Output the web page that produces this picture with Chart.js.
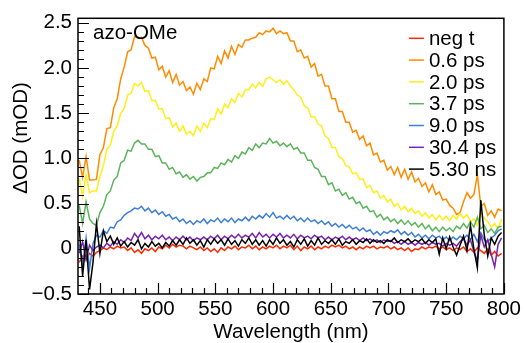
<!DOCTYPE html>
<html>
<head>
<meta charset="utf-8">
<script src="https://cdn.jsdelivr.net/npm/chart.js@4.4.1/dist/chart.umd.min.js"></script>
<style>
  html, body { margin: 0; padding: 0; background: #fff; }
</style>
</head>
<body>
<canvas id="spectra" width="524" height="343"></canvas>
<script>
// Lungimi de undă (nm), comune tuturor spectrelor
const wavelength = [
  432,435,438,441,444,447,450,453,456,459,
  462,465,468,471,474,477,480,483,486,489,
  492,495,498,501,504,507,510,513,516,519,
  522,525,528,531,534,537,540,543,546,549,
  552,555,558,561,564,567,570,573,576,579,
  582,585,588,591,594,597,600,603,606,609,
  612,615,618,621,624,627,630,633,636,639,
  642,645,648,651,654,657,660,663,666,669,
  672,675,678,681,684,687,690,693,696,699,
  702,705,708,711,714,717,720,723,726,729,
  732,735,738,741,744,747,750,753,756,759,
  762,765,768,771,774,777,780,783,786,789,
  792,795,798
];

// ΔOD (mOD) pentru fiecare întârziere
const negT = [
  -0.15,-0.08,-0.12,-0.05,-0.08,-0.04,-0.02,0.01,-0.01,0.02,
  0.00,0.03,0.01,0.02,-0.02,0.01,-0.04,-0.01,-0.05,0.00,
  -0.02,0.01,-0.03,0.02,0.00,0.04,0.01,0.05,0.02,0.04,
  0.03,0.00,0.03,0.01,-0.01,0.02,-0.02,0.01,-0.03,0.00,
  -0.04,0.01,-0.02,0.02,0.00,0.03,-0.01,0.02,0.01,0.04,
  0.00,0.03,-0.01,0.02,0.00,0.03,0.01,0.04,0.00,0.03,
  0.01,0.04,-0.01,0.03,-0.02,0.02,0.00,0.03,-0.01,0.02,
  0.00,0.03,0.01,0.04,0.02,0.04,0.01,0.03,0.00,0.02,
  -0.01,0.02,0.00,0.03,0.01,0.03,0.00,0.02,0.01,0.03,
  0.00,0.02,-0.01,0.01,-0.02,0.01,-0.03,0.00,-0.01,0.02,
  0.00,0.02,0.01,0.03,0.00,0.02,-0.01,0.01,-0.02,0.01,
  -0.01,0.02,-0.03,0.00,-0.04,0.01,-0.02,-0.05,0.00,-0.07,
  -0.03,-0.08,-0.05
];
const t06ps = [
  0.98,0.79,1.02,0.76,0.76,0.77,1.04,1.12,1.33,1.34,
  1.56,1.66,1.88,2.01,2.18,2.20,2.35,2.33,2.34,2.25,
  2.22,2.11,2.12,1.98,2.02,1.90,1.97,1.84,1.93,1.81,
  1.85,1.75,1.79,1.71,1.83,1.76,1.88,1.85,2.00,1.99,
  2.13,2.05,2.19,2.11,2.24,2.15,2.26,2.23,2.31,2.31,
  2.33,2.34,2.39,2.37,2.41,2.40,2.44,2.38,2.41,2.38,
  2.39,2.30,2.30,2.18,2.20,2.11,2.13,2.01,2.05,1.91,
  1.93,1.80,1.80,1.66,1.66,1.52,1.52,1.40,1.40,1.29,
  1.31,1.21,1.25,1.14,1.17,1.04,1.06,0.96,0.98,0.87,
  0.91,0.82,0.90,0.79,0.88,0.77,0.85,0.74,0.78,0.69,
  0.73,0.63,0.71,0.60,0.63,0.54,0.55,0.48,0.45,0.38,
  0.40,0.52,0.62,0.56,0.60,0.82,0.47,0.50,0.37,0.42,
  0.35,0.44,0.42
];
const t20ps = [
  0.78,0.58,0.82,0.62,0.64,0.64,0.80,0.92,1.10,1.15,
  1.30,1.36,1.50,1.55,1.70,1.72,1.83,1.80,1.84,1.74,
  1.75,1.64,1.64,1.55,1.55,1.44,1.45,1.35,1.39,1.30,
  1.36,1.27,1.30,1.25,1.36,1.30,1.39,1.34,1.44,1.43,
  1.55,1.49,1.60,1.56,1.66,1.62,1.72,1.68,1.76,1.76,
  1.82,1.78,1.84,1.80,1.88,1.90,1.87,1.84,1.87,1.82,
  1.86,1.80,1.76,1.70,1.68,1.58,1.56,1.46,1.46,1.38,
  1.36,1.25,1.22,1.12,1.12,1.02,1.00,0.92,0.91,0.83,
  0.84,0.77,0.77,0.68,0.70,0.62,0.64,0.56,0.59,0.52,
  0.55,0.47,0.50,0.43,0.47,0.41,0.45,0.39,0.42,0.36,
  0.40,0.34,0.38,0.32,0.37,0.32,0.36,0.31,0.37,0.33,
  0.39,0.34,0.38,0.30,0.33,0.26,0.40,0.34,0.30,0.24,
  0.28,0.22,0.33
];
const t37ps = [
  0.48,0.28,0.52,0.33,0.28,0.26,0.40,0.47,0.60,0.64,
  0.76,0.80,0.95,0.98,1.09,1.08,1.17,1.20,1.16,1.16,
  1.10,1.10,1.02,1.03,0.95,0.95,0.88,0.90,0.83,0.85,
  0.79,0.82,0.77,0.80,0.75,0.79,0.80,0.84,0.84,0.90,
  0.89,0.95,0.93,0.99,0.96,1.03,1.00,1.07,1.05,1.12,
  1.09,1.16,1.12,1.17,1.16,1.22,1.17,1.19,1.14,1.17,
  1.13,1.16,1.10,1.12,1.06,1.06,0.98,0.98,0.90,0.88,
  0.80,0.80,0.71,0.73,0.64,0.66,0.59,0.62,0.55,0.57,
  0.50,0.52,0.45,0.47,0.41,0.42,0.35,0.38,0.32,0.35,
  0.30,0.33,0.28,0.32,0.27,0.31,0.26,0.29,0.24,0.28,
  0.22,0.26,0.20,0.24,0.19,0.24,0.20,0.23,0.19,0.25,
  0.22,0.28,0.23,0.30,0.24,0.35,0.22,0.26,0.18,0.22,
  0.17,0.24,0.25
];
const t90ps = [
  0.05,-0.18,0.12,-0.22,0.06,0.15,0.13,0.20,0.17,0.24,
  0.23,0.30,0.32,0.37,0.40,0.42,0.45,0.44,0.47,0.42,
  0.45,0.40,0.43,0.38,0.41,0.36,0.38,0.33,0.35,0.30,
  0.33,0.28,0.31,0.27,0.31,0.29,0.33,0.28,0.32,0.30,
  0.34,0.29,0.33,0.30,0.34,0.29,0.33,0.31,0.35,0.31,
  0.36,0.33,0.37,0.34,0.39,0.35,0.40,0.34,0.36,0.33,
  0.37,0.33,0.36,0.31,0.34,0.30,0.34,0.30,0.32,0.28,
  0.31,0.27,0.30,0.25,0.28,0.24,0.27,0.23,0.26,0.22,
  0.24,0.20,0.23,0.19,0.21,0.16,0.19,0.15,0.19,0.17,
  0.20,0.18,0.21,0.16,0.19,0.15,0.18,0.13,0.16,0.12,
  0.15,0.11,0.15,0.12,0.14,0.10,0.13,0.09,0.13,0.10,
  0.14,0.11,0.15,0.10,0.16,0.08,0.18,0.10,0.08,0.12,
  0.15,0.20,0.22
];
const t304ps = [
  -0.05,0.08,-0.12,0.04,-0.02,0.02,0.04,0.01,0.06,0.03,
  0.08,0.05,0.10,0.07,0.12,0.09,0.17,0.12,0.18,0.11,
  0.15,0.10,0.14,0.11,0.15,0.10,0.13,0.09,0.13,0.10,
  0.14,0.10,0.13,0.09,0.12,0.10,0.13,0.10,0.14,0.11,
  0.15,0.10,0.14,0.11,0.15,0.12,0.16,0.12,0.15,0.13,
  0.17,0.12,0.18,0.13,0.16,0.12,0.16,0.13,0.17,0.12,
  0.15,0.12,0.16,0.11,0.15,0.12,0.14,0.11,0.15,0.12,
  0.14,0.10,0.13,0.10,0.13,0.11,0.14,0.10,0.13,0.10,
  0.12,0.09,0.12,0.09,0.11,0.08,0.10,0.07,0.10,0.08,
  0.09,0.06,0.08,0.05,0.08,0.05,0.07,0.04,0.07,0.05,
  0.07,0.04,0.07,0.05,0.06,0.03,0.06,0.04,0.06,0.03,
  0.08,0.11,0.04,0.10,-0.03,-0.13,0.15,0.02,0.10,-0.06,
  -0.20,0.05,0.12
];
const t530ns = [
  0.25,-0.30,0.10,-0.45,-0.15,0.28,-0.05,0.20,0.08,0.14,
  0.05,0.12,0.03,0.08,0.02,0.07,0.04,0.10,0.00,0.06,
  0.02,0.08,0.03,0.06,0.01,0.07,0.03,0.09,0.04,0.10,
  0.05,0.12,0.06,0.10,0.04,0.09,0.02,0.10,0.05,0.11,
  0.06,0.10,0.04,0.11,0.05,0.09,0.03,0.10,0.06,0.12,
  0.05,0.10,0.04,0.09,0.03,0.10,0.05,0.12,0.06,0.10,
  0.04,0.08,0.02,0.10,0.05,0.11,0.03,0.09,0.04,0.12,
  0.05,0.09,0.06,0.10,0.05,0.11,0.04,0.08,0.06,0.10,
  0.05,0.09,0.07,0.11,0.06,0.10,0.07,0.09,0.06,0.10,
  0.08,0.12,0.07,0.10,0.08,0.11,0.07,0.10,0.08,0.11,
  0.06,0.10,0.07,0.11,-0.06,0.12,0.00,0.13,0.02,-0.07,
  0.04,0.14,-0.02,0.26,0.00,-0.21,0.54,0.15,-0.08,0.12,
  0.05,0.14,0.18
];

const seriesLabels = ['neg t', '0.6 ps', '2.0 ps', '3.7 ps', '9.0 ps', '30.4 ps', '5.30 ns'];
const seriesValues = [negT, t06ps, t20ps, t37ps, t90ps, t304ps, t530ns];
const seriesColors = ['#ff2a00', '#ff8c00', '#ffee1a', '#5cb45a', '#3d7fd6', '#7a22b0', '#000000'];

const xTickValues = [450, 500, 550, 600, 650, 700, 750, 800];
const yTickValues = [-0.5, 0, 0.5, 1.0, 1.5, 2.0, 2.5];

const FONT = '"Liberation Sans", Arial, sans-serif';

// Chenar + tick-uri orientate spre interior (major și minor)
const frameTicks = {
  id: 'frameTicks',
  afterDatasetsDraw(chart) {
    const { ctx, chartArea: a, scales: { x, y } } = chart;
    ctx.save();
    ctx.strokeStyle = '#000';
    ctx.lineWidth = 1.2;
    ctx.beginPath();
    for (let n = 44; n <= 80; n++) {
      const v = n * 10;
      const px = Math.round(x.getPixelForValue(v)) + 0.5;
      const len = xTickValues.includes(v) ? 11 : 6;
      ctx.moveTo(px, a.bottom);
      ctx.lineTo(px, a.bottom - len);
    }
    for (let n = -5; n <= 25; n++) {
      const py = Math.round(y.getPixelForValue(n / 10)) + 0.5;
      const len = n % 5 === 0 ? 11 : 6;
      ctx.moveTo(a.left, py);
      ctx.lineTo(a.left + len, py);
    }
    ctx.stroke();
    ctx.lineWidth = 1.5;
    ctx.strokeRect(a.left, a.top, a.right - a.left, a.bottom - a.top);
    ctx.restore();
  }
};

// Legendă, eticheta probei și titlul axei Y
const insideLegend = {
  id: 'insideLegend',
  afterDraw(chart) {
    const { ctx, chartArea: a } = chart;
    ctx.save();
    ctx.fillStyle = '#000';
    ctx.font = '20.5px ' + FONT;
    ctx.textBaseline = 'alphabetic';
    ctx.textAlign = 'left';
    ctx.fillText('azo-OMe', a.left + 15, a.top + 21);

    ctx.textBaseline = 'middle';
    const lx = a.right - 95;
    seriesLabels.forEach((label, i) => {
      const yy = a.top + 20 + i * 21.8;
      ctx.strokeStyle = seriesColors[i];
      ctx.lineWidth = 1.5;
      ctx.beginPath();
      ctx.moveTo(lx, yy);
      ctx.lineTo(lx + 15, yy);
      ctx.stroke();
      ctx.fillStyle = '#000';
      ctx.fillText(label, lx + 20, yy + 1);
    });

    // titlul axei Y, rotit
    ctx.translate(21, 138);
    ctx.rotate(-Math.PI / 2);
    ctx.textAlign = 'center';
    ctx.fillText('ΔOD (mOD)', 0, 0);
    ctx.restore();
  }
};

const datasets = seriesValues.map((vals, i) => ({
  label: seriesLabels[i],
  data: wavelength.map((w, k) => ({ x: w, y: vals[k] })),
  borderColor: seriesColors[i],
  borderWidth: 1.5,
  pointRadius: 0,
  tension: 0,
  order: seriesValues.length - 1 - i
}));

new Chart(document.getElementById('spectra'), {
  type: 'line',
  data: { datasets },
  options: {
    responsive: false,
    animation: false,
    devicePixelRatio: 1,
    layout: { padding: { top: 12, right: 16, left: 0, bottom: 0 } },
    plugins: { legend: { display: false }, tooltip: { enabled: false } },
    scales: {
      x: {
        type: 'linear',
        min: 431,
        max: 800,
        afterBuildTicks: s => { s.ticks = xTickValues.map(v => ({ value: v })); },
        afterFit: s => { s.height = 49; },
        grid: { display: false, drawTicks: false },
        border: { display: false },
        ticks: { color: '#000', padding: 3, maxRotation: 0, font: { family: FONT, size: 20.5 } },
        title: { display: true, text: 'Wavelength (nm)', color: '#000', padding: 0, font: { family: FONT, size: 20.5, lineHeight: 1 } }
      },
      y: {
        min: -0.5,
        max: 2.55,
        afterBuildTicks: s => { s.ticks = yTickValues.map(v => ({ value: v })); },
        afterFit: s => { s.width = 78; },
        grid: { display: false, drawTicks: false },
        border: { display: false },
        ticks: {
          color: '#000',
          padding: 6,
          font: { family: FONT, size: 20.5 },
          callback: v => v === 0 ? '0' : (v < 0 ? '\u2212' + Math.abs(v).toFixed(1) : v.toFixed(1))
        }
      }
    }
  },
  plugins: [frameTicks, insideLegend]
});
</script>
</body>
</html>
